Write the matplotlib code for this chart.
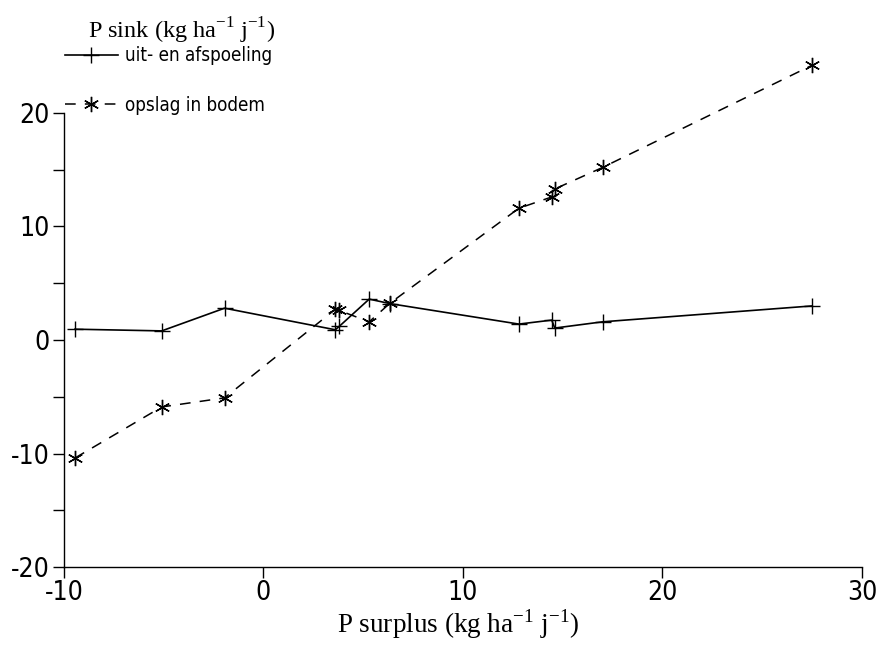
import matplotlib
matplotlib.use('Agg')
import matplotlib.pyplot as plt
from matplotlib.ticker import MultipleLocator

# P surplus en P sink per locatie
surplus_uit = [-9.45, -5.1, -1.95, 3.6, 3.8, 5.3, 6.35, 12.8, 14.45, 14.6, 17.0, 27.5]
uitspoeling = [0.95, 0.8, 2.8, 0.9, 1.2, 3.6, 3.2, 1.4, 1.75, 1.05, 1.6, 3.0]

surplus_opslag = [-9.45, -5.1, -1.95, 3.6, 3.8, 5.3, 6.35, 12.8, 14.45, 14.6, 17.0, 27.5]
opslag = [-10.4, -5.9, -5.1, 2.7, 2.6, 1.6, 3.25, 11.6, 12.6, 13.3, 15.2, 24.2]

plt.rcParams['axes.unicode_minus'] = False
serif = ['Liberation Serif', 'DejaVu Serif']

fig = plt.figure(figsize=(8.76, 6.49), dpi=100)
ax = fig.add_axes([0.073, 0.1263, 0.911, 0.6997])

asterisk = (6, 2, 0)
l1, = ax.plot(surplus_uit, uitspoeling, color='black', lw=1.2, clip_on=False,
              marker='+', markersize=12, markeredgewidth=1.0)
l2, = ax.plot(surplus_opslag, opslag, color='black', lw=1.1, linestyle=(0, (7, 6)),
              clip_on=False, marker=asterisk, markersize=11, markeredgewidth=1.0)

ax.set_xlim(-10, 30)
ax.set_ylim(-20, 20)
ax.xaxis.set_major_locator(MultipleLocator(10))
ax.yaxis.set_major_locator(MultipleLocator(10))
ax.yaxis.set_minor_locator(MultipleLocator(5))

for s in ['top', 'right']:
    ax.spines[s].set_visible(False)
for s in ['left', 'bottom']:
    ax.spines[s].set_linewidth(1.0)

ax.tick_params(axis='both', which='both', direction='out', width=1.0, length=8, pad=2)
ax.tick_params(axis='x', pad=1)
for lab in ax.get_xticklabels() + ax.get_yticklabels():
    lab.set_family('DejaVu Sans')
    lab.set_stretch('condensed')
    lab.set_fontsize(19)

fig.text(0.523, 0.038, r'P surplus (kg ha$^{\mathregular{-1}}$ j$^{\mathregular{-1}}$)',
         ha='center', va='center', fontsize=19.5, family=serif)
fig.text(0.10, 0.953, r'P sink (kg ha$^{\mathregular{-1}}$ j$^{\mathregular{-1}}$)',
         ha='left', va='center', fontsize=17.5, family=serif)

fig.legend([l1, l2], ['uit- en afspoeling', 'opslag in bodem'],
           loc='upper left', bbox_to_anchor=(0.055, 0.955), frameon=False,
           handlelength=2.8, handletextpad=0.4, labelspacing=1.65,
           prop={'family': 'DejaVu Sans', 'stretch': 'condensed', 'size': 13.5})

fig.savefig('out.png', dpi=100)
